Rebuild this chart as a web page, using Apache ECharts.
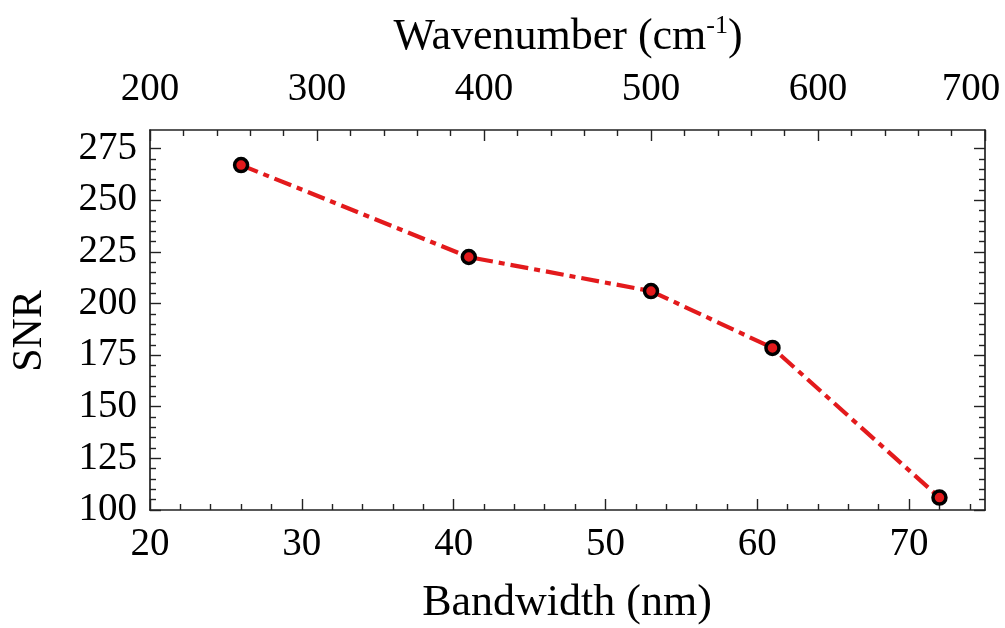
<!DOCTYPE html>
<html>
<head>
<meta charset="utf-8">
<script src="https://cdn.jsdelivr.net/npm/echarts@6/dist/echarts.min.js"></script>
<style>
  html, body { margin: 0; padding: 0; background: #fff; }
  #chart { width: 1005px; height: 628px; }
</style>
</head>
<body>
<div id="chart"></div>
<script>
// Measured SNR against spectral bandwidth
const bandwidthNm = [26, 41, 53, 61, 72];
const snrValues   = [267, 222.5, 206, 178.5, 106];

// Tick values for each axis
const bandwidthMajor  = [20, 30, 40, 50, 60, 70];
const wavenumberMajor = [200, 300, 400, 500, 600, 700];
const snrMajor        = [100, 125, 150, 175, 200, 225, 250, 275];

function minorTicks(from, to, step, majors) {
  const out = [];
  for (let v = from; v <= to + 1e-9; v += step) {
    const r = Math.round(v * 1000) / 1000;
    if (majors.indexOf(r) < 0) out.push(r);
  }
  return out;
}
const bandwidthMinor  = minorTicks(20, 75, 2, bandwidthMajor);
const wavenumberMinor = minorTicks(200, 700, 20, wavenumberMajor);
const snrMinor        = minorTicks(100, 275, 5, snrMajor);

const FONT = "'Liberation Serif', 'Times New Roman', serif";
const AXIS_COLOR = '#222';
const TICK_FONT = 39;
const X_MIN = 20, X_MAX = 75, W_MIN = 200, W_MAX = 700, Y_MIN = 100, Y_MAX = 284;

// the last wavenumber label is nudged inward so it stays on the page
const edgeRich = { edge: { fontFamily: FONT, fontSize: TICK_FONT, color: '#000', padding: [0, 28, 0, 0] } };
function wavenumberLabel(v) { return v === W_MAX ? '{edge|' + v + '}' : String(v); }

function xAxisDef(pos, min, max, ticks, showLabel, showLine, tickLen, margin, formatter) {
  return {
    type: 'value', position: pos, min: min, max: max,
    splitLine: { show: false },
    axisLine: { show: showLine, onZero: false, lineStyle: { color: AXIS_COLOR, width: 1.7 } },
    axisTick: { show: true, inside: true, length: tickLen, customValues: ticks,
                lineStyle: { color: AXIS_COLOR, width: 1.4 } },
    axisLabel: { show: showLabel, customValues: ticks, margin: margin, formatter: formatter,
                 rich: edgeRich, fontFamily: FONT, fontSize: TICK_FONT, color: '#000' }
  };
}
function yAxisDef(pos, ticks, showLabel, showLine, tickLen) {
  return {
    type: 'value', position: pos, min: Y_MIN, max: Y_MAX,
    splitLine: { show: false },
    axisLine: { show: showLine, onZero: false, lineStyle: { color: AXIS_COLOR, width: 1.7 } },
    axisTick: { show: true, inside: true, length: tickLen, customValues: ticks,
                lineStyle: { color: AXIS_COLOR, width: 1.4 } },
    axisLabel: { show: showLabel, customValues: ticks, margin: 13,
                 fontFamily: FONT, fontSize: TICK_FONT, color: '#000' }
  };
}

const chart = echarts.init(document.getElementById('chart'), null, { renderer: 'canvas' });
chart.setOption({
  animation: false,
  backgroundColor: '#fff',
  grid: { left: 150, right: 20, top: 130, bottom: 118, containLabel: false, outerBoundsMode: 'none' },
  xAxis: [
    xAxisDef('bottom', X_MIN, X_MAX, bandwidthMajor, true, true, 11, 15),
    xAxisDef('bottom', X_MIN, X_MAX, bandwidthMinor, false, false, 6, 15),
    xAxisDef('top', W_MIN, W_MAX, wavenumberMajor, true, true, 11, 21, wavenumberLabel),
    xAxisDef('top', W_MIN, W_MAX, wavenumberMinor, false, false, 6, 21)
  ],
  yAxis: [
    yAxisDef('left', snrMajor, true, true, 11),
    yAxisDef('left', snrMinor, false, false, 6),
    yAxisDef('right', snrMajor, false, true, 11),
    yAxisDef('right', snrMinor, false, false, 6)
  ],
  graphic: [
    { type: 'text', x: 568, y: 37,
      style: { text: 'Wavenumber (cm{sup|-1})', fontFamily: FONT, fontSize: 44, fill: '#000',
               align: 'center', verticalAlign: 'middle',
               rich: { sup: { fontFamily: FONT, fontSize: 26, fill: '#000', verticalAlign: 'top', padding: [0, 0, 22, 0] } } } },
    { type: 'text', x: 567, y: 603,
      style: { text: 'Bandwidth (nm)', fontFamily: FONT, fontSize: 44, fill: '#000',
               align: 'center', verticalAlign: 'middle' } },
    { type: 'text', x: 30, y: 331, rotation: Math.PI / 2,
      style: { text: 'SNR', fontFamily: FONT, fontSize: 42, fill: '#000',
               align: 'center', verticalAlign: 'middle' } }
  ],
  series: [{
    type: 'line',
    xAxisIndex: 0, yAxisIndex: 0,
    data: bandwidthNm.map((x, i) => [x, snrValues[i]]),
    symbol: 'circle', symbolSize: 13,
    lineStyle: { color: '#e31a1c', width: 4.2, type: [18, 6, 6, 6] },
    itemStyle: { color: '#e31a1c', borderColor: '#000', borderWidth: 3.5 },
    z: 5
  }]
});
</script>
</body>
</html>
